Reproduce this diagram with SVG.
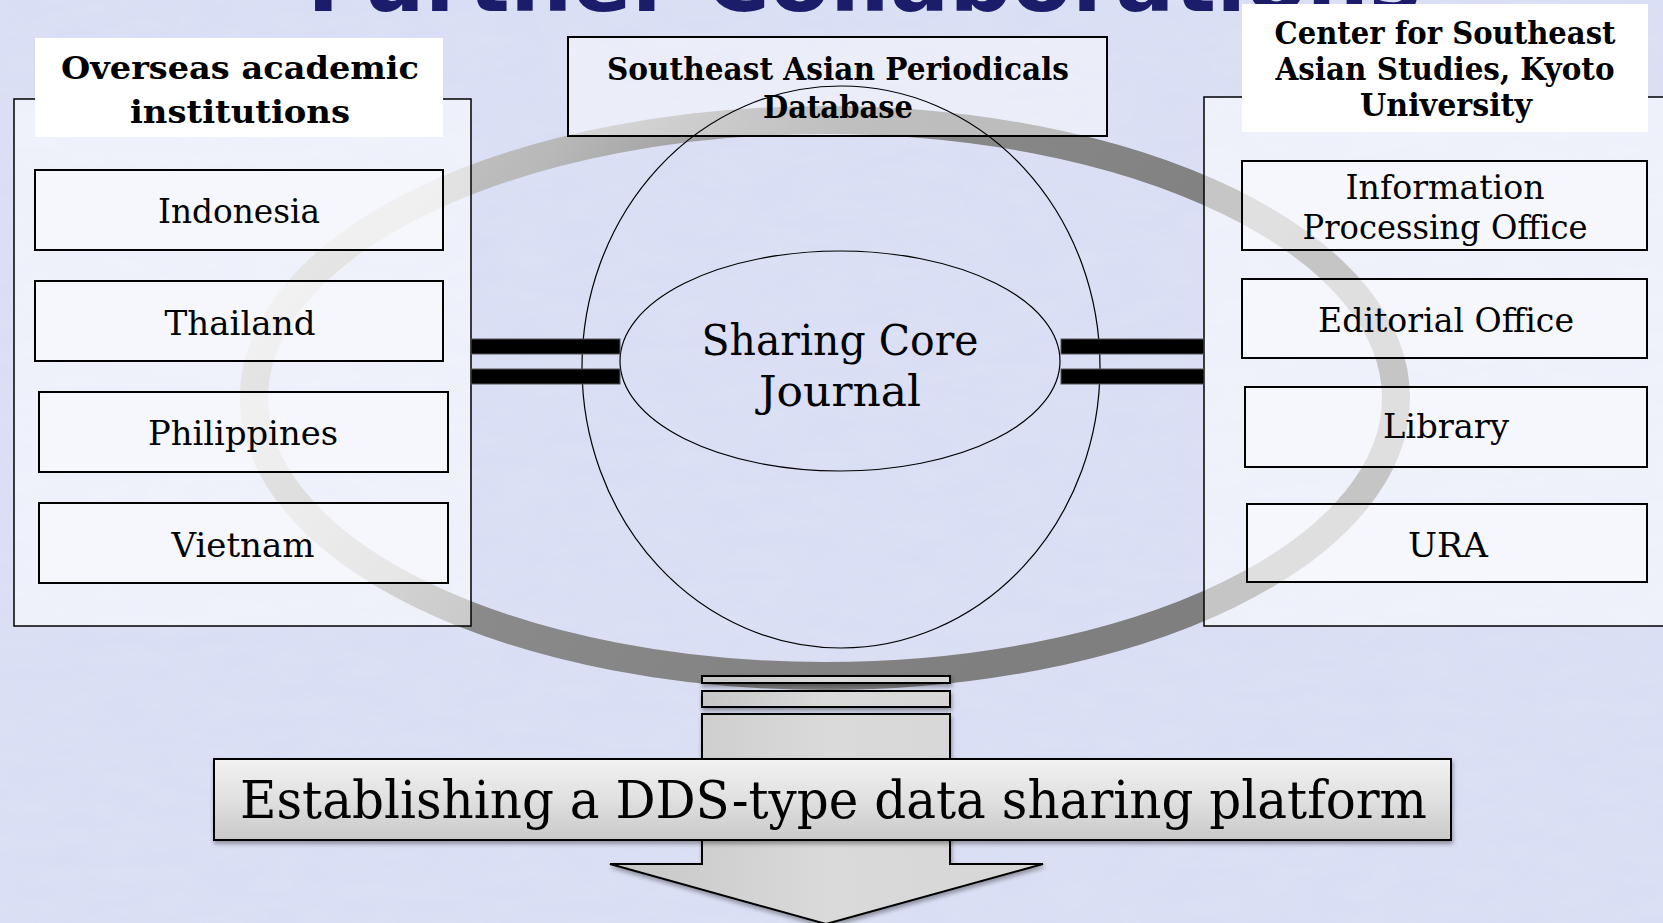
<svg xmlns="http://www.w3.org/2000/svg" width="1663" height="923" viewBox="0 0 1663 923">
  <defs>
    <linearGradient id="ringGrad" gradientUnits="userSpaceOnUse" x1="300" y1="120" x2="1000" y2="650">
      <stop offset="0" stop-color="#d0d0d0"/>
      <stop offset="0.25" stop-color="#b8b8b8"/>
      <stop offset="0.5" stop-color="#8a8a8a"/>
      <stop offset="1" stop-color="#7f7f7f"/>
    </linearGradient>
    <linearGradient id="arrowGrad" x1="0" y1="0" x2="1" y2="0">
      <stop offset="0" stop-color="#c6c6c6"/>
      <stop offset="0.5" stop-color="#dadada"/>
      <stop offset="1" stop-color="#d6d6d6"/>
    </linearGradient>
    <linearGradient id="bannerGrad" x1="0" y1="0" x2="0" y2="1">
      <stop offset="0" stop-color="#f2f2f2"/>
      <stop offset="0.5" stop-color="#e0e0e0"/>
      <stop offset="1" stop-color="#c9c9c9"/>
    </linearGradient>
    <filter id="shadow" x="-5%" y="-20%" width="110%" height="150%">
      <feDropShadow dx="1" dy="3" stdDeviation="2" flood-color="#000" flood-opacity="0.35"/>
    </filter>
    <filter id="paper" x="0" y="0" width="100%" height="100%">
      <feTurbulence type="fractalNoise" baseFrequency="0.02 0.06" numOctaves="3" seed="4" result="n"/>
      <feColorMatrix in="n" type="matrix" values="0 0 0 0 1  0 0 0 0 1  0 0 0 0 1  0 0 0 0.25 0"/>
    </filter>
    <style>
      .serif { font-family: 'DejaVu Serif', 'Liberation Serif', serif; fill: #000; }
      .hdr { font-size: 31px; font-weight: bold; text-anchor: middle; }
      .lbl { font-size: 34px; text-anchor: middle; }
      .panel { fill: #ffffff; fill-opacity: 0.55; stroke: #000; stroke-width: 1.5; }
      .box { fill: #ffffff; fill-opacity: 0.45; stroke: #000; stroke-width: 2; }
      .hdrbox { fill: #ffffff; stroke: none; }
      .thin { fill: none; stroke: #000; stroke-width: 1.2; }
      .bar { fill: #000; stroke: #555; stroke-width: 1; }
      .gray { fill: url(#arrowGrad); stroke: #000; stroke-width: 2; }
    </style>
  </defs>

  <!-- background -->
  <rect x="0" y="0" width="1663" height="923" fill="#d8ddf4"/>
  <rect x="0" y="0" width="1663" height="923" filter="url(#paper)" opacity="0.5"/>

  <!-- clipped title -->
  <text x="307" y="11" font-family="'DejaVu Sans', 'Liberation Sans', sans-serif" font-size="84" font-weight="bold" fill="#1b1d6b" textLength="1114" lengthAdjust="spacingAndGlyphs">Further Collaborations</text>

  <!-- ring -->
  <g id="ring">
    <ellipse cx="825" cy="398" rx="571" ry="278" fill="none" stroke="url(#ringGrad)" stroke-width="28"/>
  </g>

  <!-- left panel -->
  <g id="left-panel">
    <rect class="panel" x="14" y="99" width="457" height="527"/>
    <rect class="hdrbox" x="35" y="38" width="408" height="99"/>
    <text class="serif hdr" x="240" y="79" textLength="358" lengthAdjust="spacingAndGlyphs">Overseas academic</text>
    <text class="serif hdr" x="240" y="123" textLength="220" lengthAdjust="spacingAndGlyphs">institutions</text>
  </g>
  <g id="indonesia">
    <rect class="box" x="35" y="170" width="408" height="80"/>
    <text class="serif lbl" x="239" y="223" textLength="162" lengthAdjust="spacingAndGlyphs">Indonesia</text>
  </g>
  <g id="thailand">
    <rect class="box" x="35" y="281" width="408" height="80"/>
    <text class="serif lbl" x="240" y="335" textLength="151" lengthAdjust="spacingAndGlyphs">Thailand</text>
  </g>
  <g id="philippines">
    <rect class="box" x="39" y="392" width="409" height="80"/>
    <text class="serif lbl" x="243" y="445" textLength="190" lengthAdjust="spacingAndGlyphs">Philippines</text>
  </g>
  <g id="vietnam">
    <rect class="box" x="39" y="503" width="409" height="80"/>
    <text class="serif lbl" x="243" y="557" textLength="143" lengthAdjust="spacingAndGlyphs">Vietnam</text>
  </g>

  <!-- right panel -->
  <g id="right-panel">
    <rect class="panel" x="1204" y="97" width="470" height="529"/>
    <rect class="hdrbox" x="1242" y="4" width="406" height="128"/>
    <text class="serif hdr" x="1445" y="44" textLength="341" lengthAdjust="spacingAndGlyphs">Center for Southeast</text>
    <text class="serif hdr" x="1445" y="80" textLength="339" lengthAdjust="spacingAndGlyphs">Asian Studies, Kyoto</text>
    <text class="serif hdr" x="1446" y="116" textLength="172" lengthAdjust="spacingAndGlyphs">University</text>
  </g>
  <g id="info-office">
    <rect class="box" x="1242" y="161" width="405" height="89"/>
    <text class="serif lbl" x="1445" y="199" textLength="199" lengthAdjust="spacingAndGlyphs">Information</text>
    <text class="serif lbl" x="1445" y="239" textLength="285" lengthAdjust="spacingAndGlyphs">Processing Office</text>
  </g>
  <g id="editorial-office">
    <rect class="box" x="1242" y="279" width="405" height="79"/>
    <text class="serif lbl" x="1446" y="332" textLength="256" lengthAdjust="spacingAndGlyphs">Editorial Office</text>
  </g>
  <g id="library">
    <rect class="box" x="1245" y="387" width="402" height="80"/>
    <text class="serif lbl" x="1446" y="438" textLength="126" lengthAdjust="spacingAndGlyphs">Library</text>
  </g>
  <g id="ura">
    <rect class="box" x="1247" y="504" width="400" height="78"/>
    <text class="serif lbl" x="1448" y="557" textLength="80" lengthAdjust="spacingAndGlyphs">URA</text>
  </g>

  <!-- center top box -->
  <g id="periodicals-db">
    <rect x="568" y="37" width="539" height="99" fill="#ffffff" fill-opacity="0.45" stroke="#000" stroke-width="2"/>
    <text class="serif hdr" x="838" y="80" textLength="462" lengthAdjust="spacingAndGlyphs">Southeast Asian Periodicals</text>
    <text class="serif hdr" x="838" y="118" textLength="150" lengthAdjust="spacingAndGlyphs">Database</text>
  </g>

  <!-- central circle and core -->
  <g id="outer-circle">
    <ellipse class="thin" cx="841" cy="367" rx="259" ry="281"/>
  </g>
  <g id="core-journal">
    <ellipse class="thin" cx="840" cy="361" rx="220" ry="110"/>
    <text class="serif" x="840" y="355" font-size="43" text-anchor="middle" textLength="277" lengthAdjust="spacingAndGlyphs">Sharing Core</text>
    <text class="serif" x="840" y="406" font-size="43" text-anchor="middle" textLength="162" lengthAdjust="spacingAndGlyphs">Journal</text>
  </g>

  <!-- connectors -->
  <g id="connectors">
    <rect class="bar" x="471" y="339" width="149" height="15"/>
    <rect class="bar" x="471" y="369" width="149" height="15"/>
    <rect class="bar" x="1061" y="339" width="143" height="15"/>
    <rect class="bar" x="1061" y="369" width="143" height="15"/>
  </g>

  <!-- bottom arrow -->
  <g id="down-arrow" filter="url(#shadow)">
    <rect class="gray" x="702" y="676" width="248" height="7"/>
    <rect class="gray" x="702" y="691" width="248" height="16"/>
    <polygon class="gray" points="702,714 950,714 950,864 1043,864 826,924 610,864 702,864"/>
  </g>

  <g id="platform" filter="url(#shadow)">
    <rect x="214" y="759" width="1237" height="81" fill="url(#bannerGrad)" stroke="#000" stroke-width="2"/>
    <text class="serif" x="240" y="818" font-size="52" textLength="1187" lengthAdjust="spacingAndGlyphs">Establishing a DDS-type data sharing platform</text>
  </g>
</svg>
